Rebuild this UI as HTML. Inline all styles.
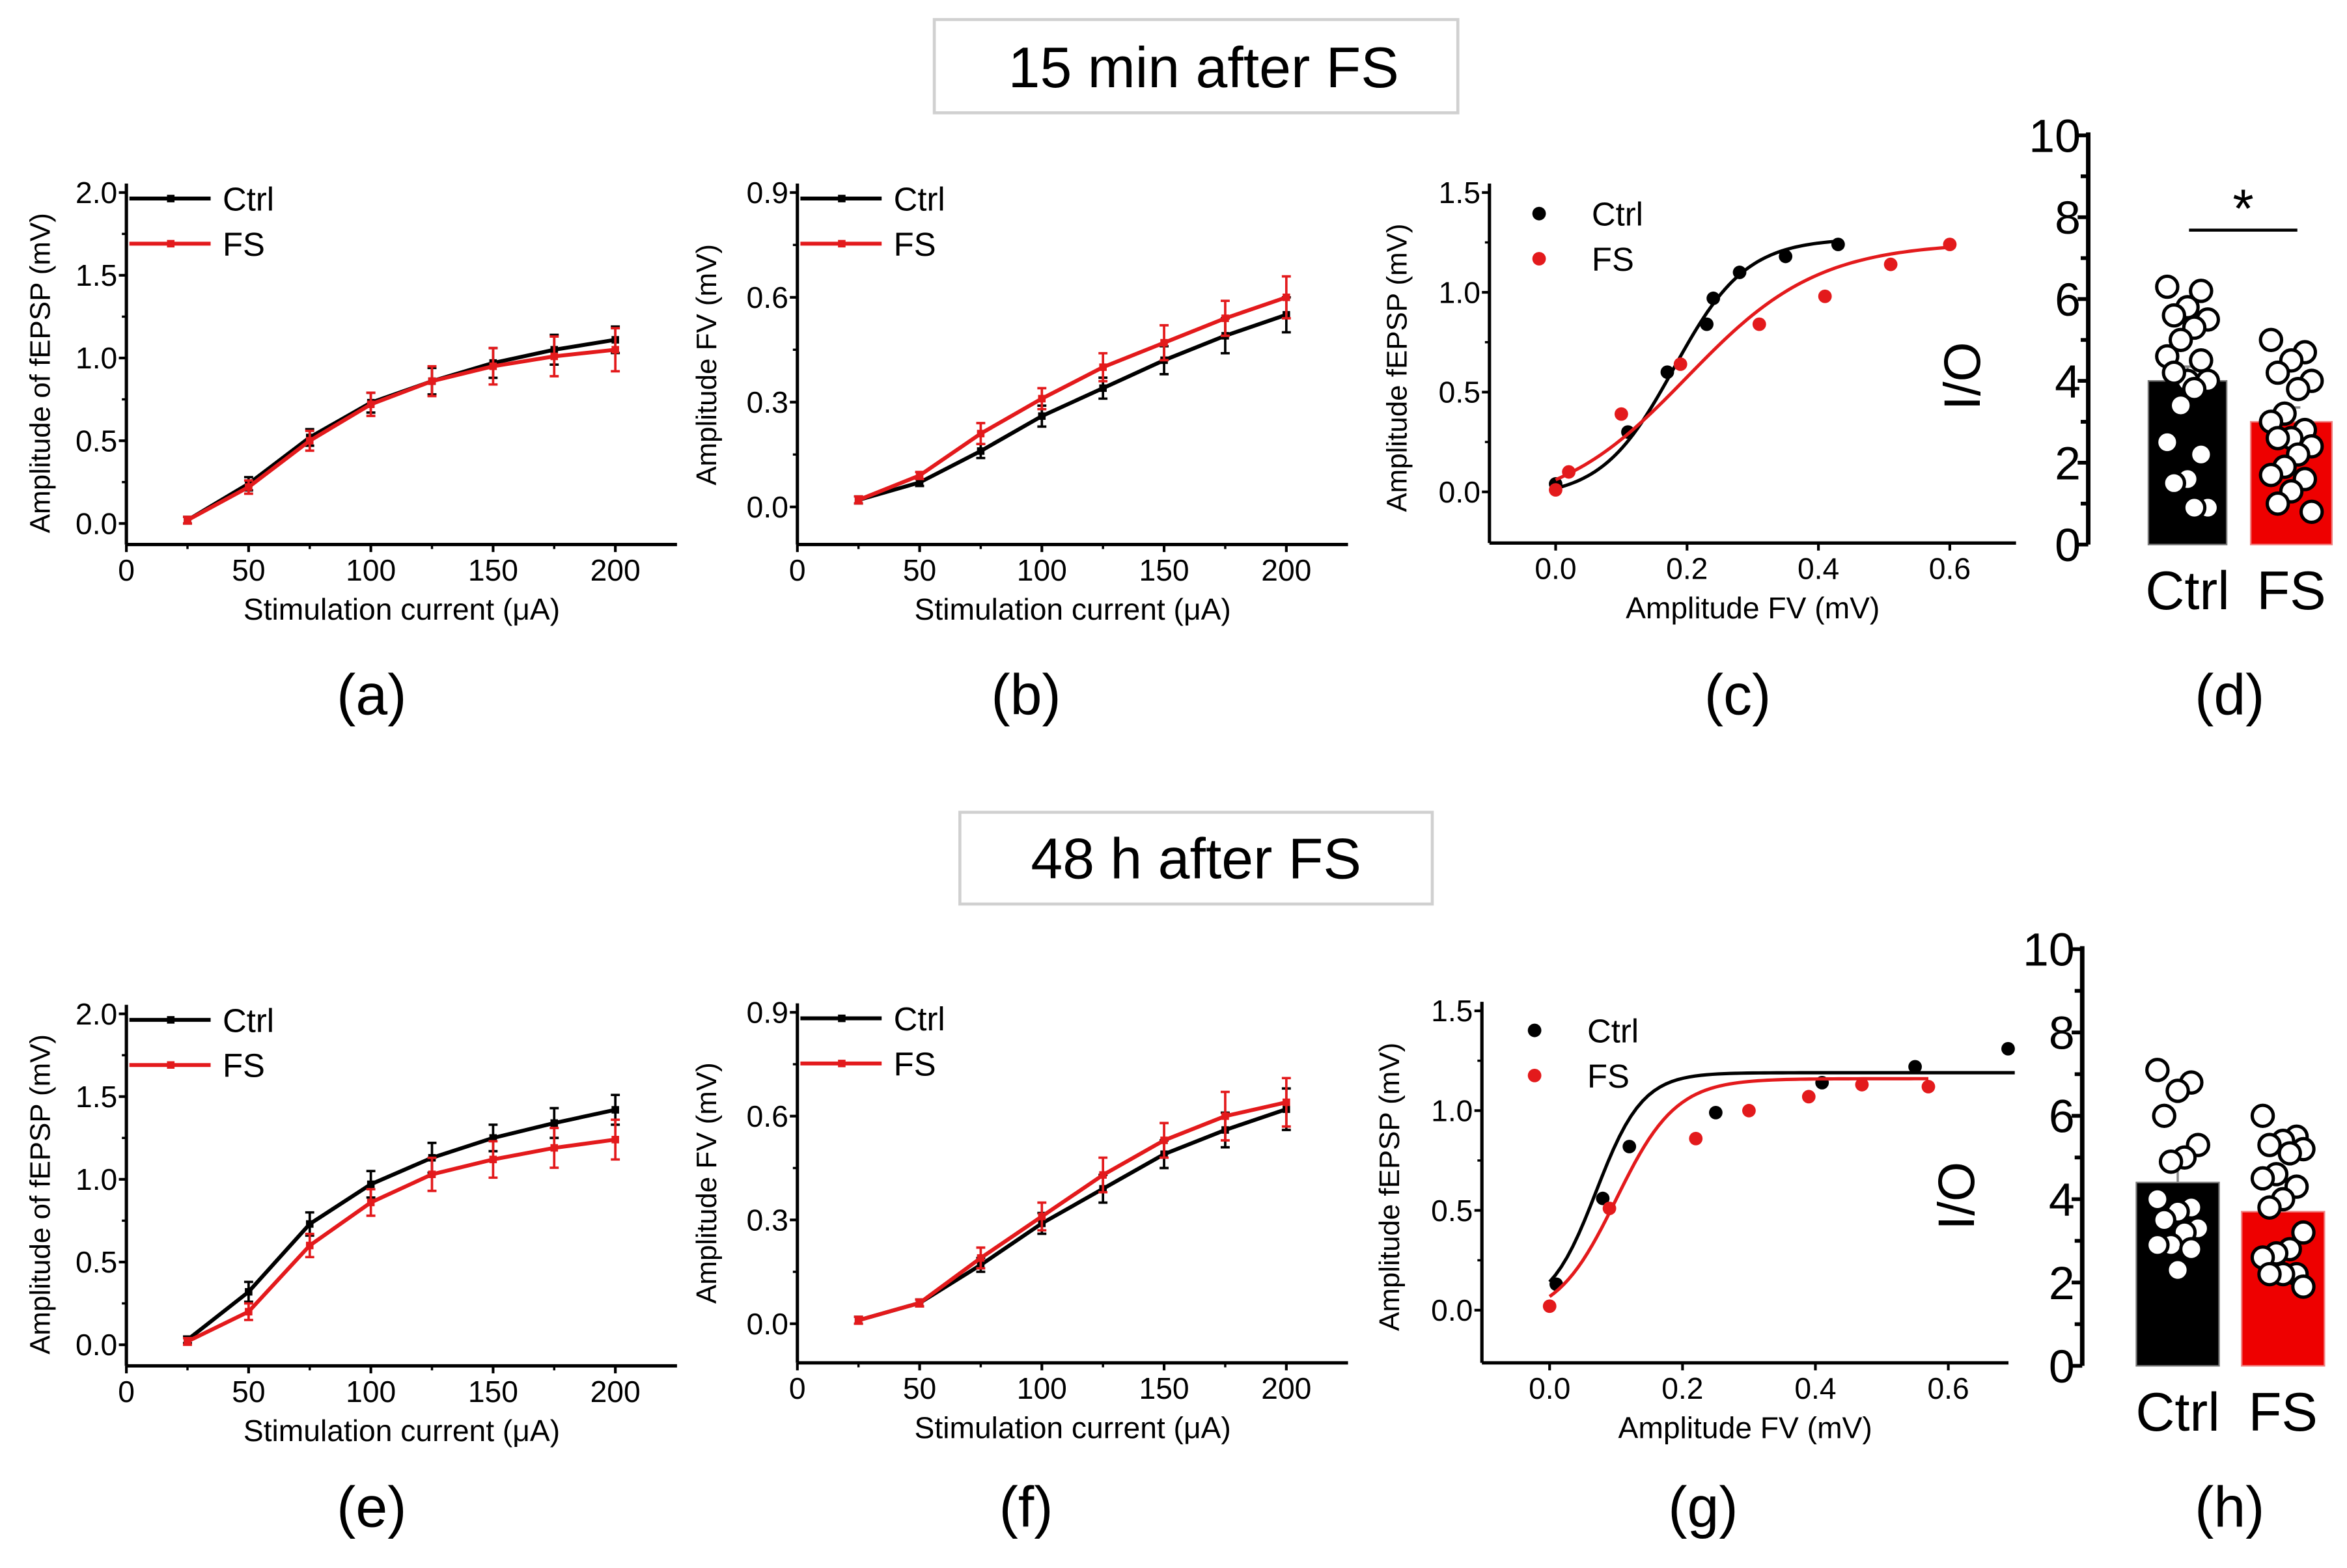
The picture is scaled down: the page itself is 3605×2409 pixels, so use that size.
<!DOCTYPE html>
<html><head><meta charset="utf-8"><style>
html,body{margin:0;padding:0;background:#fff;}
svg{display:block;font-family:"Liberation Sans",Arial,sans-serif;}
</style></head><body>
<svg id="fig" width="3605" height="2409" viewBox="0 0 1560 1042.4" preserveAspectRatio="none" xmlns="http://www.w3.org/2000/svg">
<rect x="0" y="0" width="1560" height="1042.4" fill="#fff"/>
<rect x="621" y="13" width="348" height="62" fill="#fff" stroke="#d0d0d0" stroke-width="2"/>
<text x="800" y="58" font-size="38" text-anchor="middle">15 min after FS</text>
<rect x="638" y="540" width="314" height="61" fill="#fff" stroke="#d0d0d0" stroke-width="2"/>
<text x="795" y="584" font-size="38" text-anchor="middle">48 h after FS</text>
<g id="root"></g>
</svg>
<script>
// ---------- data ----------
const currents = [25,50,75,100,125,150,175,200];
const aCtrl = [0.02,0.24,0.52,0.73,0.86,0.97,1.05,1.11];
const aCtrlErr = [0.02,0.04,0.05,0.06,0.08,0.09,0.09,0.08];
const aFS = [0.02,0.22,0.50,0.72,0.86,0.95,1.01,1.05];
const aFSErr = [0.02,0.04,0.06,0.07,0.09,0.11,0.12,0.13];
const bCtrl = [0.02,0.07,0.16,0.26,0.34,0.42,0.49,0.55];
const bCtrlErr = [0.01,0.01,0.02,0.03,0.03,0.04,0.05,0.05];
const bFS = [0.02,0.09,0.21,0.31,0.40,0.47,0.54,0.60];
const bFSErr = [0.01,0.01,0.03,0.03,0.04,0.05,0.05,0.06];
const eCtrl = [0.03,0.32,0.73,0.97,1.13,1.25,1.34,1.42];
const eCtrlErr = [0.02,0.06,0.07,0.08,0.09,0.08,0.09,0.09];
const eFS = [0.02,0.20,0.60,0.86,1.03,1.12,1.19,1.24];
const eFSErr = [0.02,0.05,0.07,0.08,0.10,0.11,0.12,0.12];
const fCtrl = [0.01,0.06,0.17,0.29,0.39,0.49,0.56,0.62];
const fCtrlErr = [0.01,0.01,0.02,0.03,0.04,0.04,0.05,0.06];
const fFS = [0.01,0.06,0.19,0.31,0.43,0.53,0.60,0.64];
const fFSErr = [0.01,0.01,0.03,0.04,0.05,0.05,0.07,0.07];
const cCtrlX = [0.0,0.11,0.17,0.23,0.24,0.28,0.35,0.43];
const cCtrlY = [0.04,0.30,0.60,0.84,0.97,1.10,1.18,1.24];
const cFSX = [0.0,0.02,0.10,0.19,0.31,0.41,0.51,0.60];
const cFSY = [0.01,0.10,0.39,0.64,0.84,0.98,1.14,1.24];
const cCtrlFit = [-0.03,1.27,0.18,0.055]; // base, top, x0, k
const cFSFit = [-0.10,1.25,0.20,0.10];
const gCtrlX = [0.01,0.08,0.12,0.25,0.41,0.55,0.69];
const gCtrlY = [0.13,0.56,0.82,0.99,1.14,1.22,1.31];
const gFSX = [0.0,0.09,0.22,0.30,0.39,0.47,0.57];
const gFSY = [0.02,0.51,0.86,1.00,1.07,1.13,1.12];
const gCtrlFit = [0.0,1.19,0.07,0.035];
const gFSFit = [-0.05,1.16,0.10,0.045];
const dMeans = [4.0,3.0];
const dCtrlPts = [6.3,6.2,5.8,5.6,5.5,5.3,5.0,4.6,4.5,4.0,4.2,4.0,3.8,3.4,2.5,2.2,1.6,1.5,0.9,0.9];
const dFSPts = [5.0,4.7,4.5,4.2,4.0,3.8,3.2,3.0,2.8,2.6,2.6,2.4,2.2,1.9,1.7,1.6,1.3,1.0,0.8];
const hMeans = [4.4,3.7];
const hCtrlPts = [7.1,6.8,6.6,6.0,5.3,5.0,4.9,4.0,3.8,3.7,3.5,3.3,3.2,2.9,2.9,2.8,2.3];
const hFSPts = [6.0,5.5,5.4,5.3,5.2,5.1,4.6,4.5,4.3,4.0,3.8,3.2,2.8,2.7,2.6,2.2,2.2,2.2,1.9];
const barCats = ["Ctrl","FS"];
const ticksA = [0,0.5,1.0,1.5,2.0];
const ticksB = [0,0.3,0.6,0.9];
const ticksC = [0,0.5,1.0,1.5];
const ticksCx = [0,0.2,0.4,0.6];
const ticksCur = [0,50,100,150,200];
const ticksBar = [0,2,4,6,8,10];

const NS = "http://www.w3.org/2000/svg";
const root = document.getElementById('root');
function mk(tag, attrs, parent, text){
  const e = document.createElementNS(NS, tag);
  for (const k in attrs) e.setAttribute(k, attrs[k]);
  if (text !== undefined) e.textContent = text;
  (parent||root).appendChild(e); return e;
}
const RED = "#e31a1c";

function axesFrame(g, o){
  const ax = mk('line',{x1:o.left,y1:o.bottom,x2:o.right,y2:o.bottom,stroke:'#000','stroke-width':2.2},g);
   
  const ay = mk('line',{x1:o.left,y1:o.top,x2:o.left,y2:o.bottom,stroke:'#000','stroke-width':2.2},g);
   
  o.xt.forEach((v,i)=>{
    const x=o.sx(v);
    mk('line',{x1:x,y1:o.bottom,x2:x,y2:o.bottom+5,stroke:'#000','stroke-width':1.8},g);
    if (o.xminor && i<o.xt.length-1){const xm=o.sx(v+(o.xt[1]-o.xt[0])/2);mk('line',{x1:xm,y1:o.bottom,x2:xm,y2:o.bottom+3,stroke:'#000','stroke-width':1.5},g);}
    const t=mk('text',{x:x,y:o.bottom+24,'font-size':20,'text-anchor':'middle'},g,o.xfmt(v));
     
  });
  o.yt.forEach((v,i)=>{
    const y=o.sy(v);
    mk('line',{x1:o.left-5,y1:y,x2:o.left,y2:y,stroke:'#000','stroke-width':1.8},g);
    if (i<o.yt.length-1){const ym=o.sy(v+(o.yt[1]-o.yt[0])/2);mk('line',{x1:o.left-3,y1:ym,x2:o.left,y2:ym,stroke:'#000','stroke-width':1.5},g);}
    const t=mk('text',{x:o.left-6,y:y+7,'font-size':20,'text-anchor':'end'},g,o.yfmt(v));
     
  });
  const xl=mk('text',{x:o.xlx,y:o.bottom+50,'font-size':20,'text-anchor':'middle'},g,o.xlabel);
   
  const yl=mk('text',{x:0,y:0,'font-size':19,'text-anchor':'middle',transform:`translate(${o.ylx},${o.yly}) rotate(-90)`},g,o.ylabel);
   
}

function linePanel(name, left, top0, bottom, axisY, ymax, yt, ctrl, ctrlE, fs, fsE, ylabel, ylx, label, lblx, lbly){
  const g = mk('g',{});
  
  
  const y0 = top0;
  const ybase = bottom;
  const sx = v => left + v*1.625;
  const sy = v => ybase - (ybase-y0)*v/ymax;
  axesFrame(g,{left:left,right:left+366,top:y0-6,bottom:axisY,sx:sx,sy:sy,xt:ticksCur,yt:yt,xminor:true,
    xfmt:v=>String(v),yfmt:v=>v.toFixed(1),xlabel:'Stimulation current (μA)',xlx:left+183,ylabel:ylabel,ylx:ylx,yly:(y0+ybase)/2+10});
  [[ctrl,ctrlE,'#000','ctrl'],[fs,fsE,RED,'fs']].forEach(([vals,errs,col,nm])=>{
    const pts = currents.map((c,i)=>sx(c)+','+sy(vals[i])).join(' ');
    const pl = mk('polyline',{points:pts,fill:'none',stroke:col,'stroke-width':2.6},g);
     
    currents.forEach((c,i)=>{
      const x=sx(c), y1=sy(vals[i]+errs[i]), y2=sy(vals[i]-errs[i]);
      const eb = mk('path',{d:`M${x},${y1}V${y2}M${x-3},${y1}H${x+3}M${x-3},${y2}H${x+3}`,stroke:col,'stroke-width':1.6,fill:'none'},g);
       
      const pt = mk('rect',{x:x-2.5,y:sy(vals[i])-2.5,width:5,height:5,fill:col},g);
       
    });
  });
  [['Ctrl','#000',y0+4],['FS',RED,y0+34]].forEach(([t,col,y])=>{
    mk('line',{x1:left+2,y1:y,x2:left+56,y2:y,stroke:col,'stroke-width':2.6},g);
    mk('rect',{x:left+27,y:y-2.5,width:5,height:5,fill:col},g);
    const lt = mk('text',{x:left+64,y:y+8,'font-size':22},g,t);
     
  });
  const pl = mk('text',{x:lblx,y:lbly,'font-size':38,'text-anchor':'middle'},g,label);
   
}

function fitPanel(name, left, x0px, x6px, y15, y0px, bottom, right, cx, cy, cfit, cxmax, fx, fy, ffit, fxmax, ylx, label, lblx, lbly, legx, legy){
  const g = mk('g',{});
  
  
  const sx = v => x0px + (x6px-x0px)*v/0.6;
  const sy = v => y0px - (y0px-y15)*v/1.5;
  axesFrame(g,{left:left,right:right,top:y15-6,bottom:bottom,sx:sx,sy:sy,xt:ticksCx,yt:ticksC,xminor:false,
    xfmt:v=>v.toFixed(1),yfmt:v=>v.toFixed(1),xlabel:'Amplitude FV (mV)',xlx:(left+right)/2,ylabel:'Amplitude fEPSP (mV)',ylx:ylx,yly:(y15+bottom)/2});
  [[cx,cy,cfit,cxmax,'#000','ctrl'],[fx,fy,ffit,fxmax,RED,'fs']].forEach(([xs,ys,p,xm,col,nm])=>{
    let d='';
    for(let i=0;i<=80;i++){const x=xm*i/80;const y=p[0]+(p[1]-p[0])/(1+Math.exp(-(x-p[2])/p[3]));d+=(i?'L':'M')+sx(x).toFixed(2)+','+sy(y).toFixed(2);}
    const fc = mk('path',{d:d,fill:'none',stroke:col,'stroke-width':2.2},g);
     
    xs.forEach((x,i)=>{
      const c = mk('circle',{cx:sx(x),cy:sy(ys[i]),r:4.5,fill:col},g);
       
    });
  });
  [['Ctrl','#000',legy],['FS',RED,legy+30]].forEach(([t,col,y])=>{
    mk('circle',{cx:legx,cy:y,r:4.5,fill:col},g);
    const lt = mk('text',{x:legx+35,y:y+8,'font-size':22},g,t);
     
  });
  const pl = mk('text',{x:lblx,y:lbly,'font-size':38,'text-anchor':'middle'},g,label);
   
}

function barPanel(name, axisx, y10, y0, means, ctrlPts, fsPts, bars, ioy, label, lbly, sig){
  const g = mk('g',{});
  
  
  const sy = v => y0 - (y0-y10)*v/10;
  const ay = mk('line',{x1:axisx,y1:sy(10)-2,x2:axisx,y2:y0,stroke:'#000','stroke-width':3},g);
   
  ticksBar.forEach((v,i)=>{
    mk('line',{x1:axisx-7,y1:sy(v),x2:axisx,y2:sy(v),stroke:'#000','stroke-width':2.5},g);
    if(i<ticksBar.length-1) mk('line',{x1:axisx-5,y1:sy(v+1),x2:axisx,y2:sy(v+1),stroke:'#000','stroke-width':2.5},g);
    const t=mk('text',{x:axisx-5,y:sy(v)+11,'font-size':31,'text-anchor':'end'},g,String(v));
     
  });
  const io=mk('text',{x:0,y:0,'font-size':34,'text-anchor':'middle',transform:`translate(${axisx-72},${ioy}) rotate(-90)`},g,'I/O');
   
  const cols=['#000','#ee0000'];
  [ctrlPts,fsPts].forEach((pts,k)=>{
    const [bx,bw]=bars[k];
    const r=mk('rect',{x:bx,y:sy(means[k]),width:bw,height:y0-sy(means[k]),fill:cols[k],stroke:k?'#f08080':'#777','stroke-width':1},g);
     
    mk('line',{x1:bx+bw/2,y1:sy(means[k]),x2:bx+bw/2,y2:sy(means[k]+0.35),stroke:'#888','stroke-width':1.5},g);
    mk('line',{x1:bx+bw/2-6,y1:sy(means[k]+0.35),x2:bx+bw/2+6,y2:sy(means[k]+0.35),stroke:'#888','stroke-width':1.5},g);
    pts.forEach((v,i)=>{
      const jit=((i*5)%7-3)*4.5;
      const c=mk('circle',{cx:bx+bw/2+jit,cy:sy(v),r:7,fill:'#fff',stroke:'#000','stroke-width':2.2},g);
       
    });
    const t=mk('text',{x:bx+bw/2,y:y0+43,'font-size':36,'text-anchor':'middle'},g,barCats[k]);
     
  });
  if(sig){
    const sl=mk('line',{x1:sig[0],y1:sig[2],x2:sig[1],y2:sig[2],stroke:'#000','stroke-width':2},g);
     
    const st=mk('text',{x:(sig[0]+sig[1])/2,y:sig[2]-2,'font-size':36,'text-anchor':'middle'},g,'*');
     
  }
  const pl = mk('text',{x:1482,y:lbly,'font-size':38,'text-anchor':'middle'},g,label);
   
}

linePanel('panel-a',84,128,348,362,2.0,ticksA,aCtrl,aCtrlErr,aFS,aFSErr,'Amplitude of fEPSP (mV)',33,'(a)',247,475);
linePanel('panel-b',530,128,337,362,0.9,ticksB,bCtrl,bCtrlErr,bFS,bFSErr,'Amplitude FV (mV)',476,'(b)',682,475);
fitPanel('panel-c',990,1034,1296,128,327,361,1340,cCtrlX,cCtrlY,cCtrlFit,0.43,cFSX,cFSY,cFSFit,0.6,935,'(c)',1155,475,1023,142);
barPanel('panel-d',1388,90,362,dMeans,dCtrlPts,dFSPts,[[1428,52],[1496,54]],250,'(d)',475,[1455,1527,153]);
linePanel('panel-e',84,674,894,908,2.0,ticksA,eCtrl,eCtrlErr,eFS,eFSErr,'Amplitude of fEPSP (mV)',33,'(e)',247,1015);
linePanel('panel-f',530,673,880,906,0.9,ticksB,fCtrl,fCtrlErr,fFS,fFSErr,'Amplitude FV (mV)',476,'(f)',682,1015);
fitPanel('panel-g',985,1030,1295,672,871,906,1335,gCtrlX,gCtrlY,gCtrlFit,0.7,gFSX,gFSY,gFSFit,0.57,930,'(g)',1132,1015,1020,685);
barPanel('panel-h',1384,631,908,hMeans,hCtrlPts,hFSPts,[[1420,55],[1490,55]],795,'(h)',1015,null);
</script>
</body></html>
